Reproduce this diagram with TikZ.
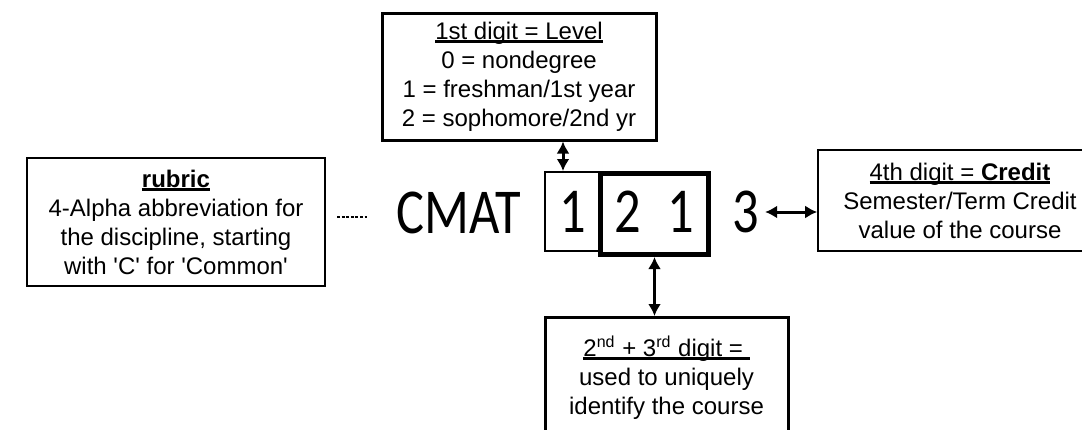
\documentclass[tikz,border=0pt]{standalone}
\usepackage{fontspec}
\setmainfont{Liberation Sans}
\newfontfamily\codefont[FakeStretch=0.82]{Carlito}
\usetikzlibrary{calc,arrows.meta}

% 标题下划线（贴近基线）
\newsavebox\headbox
\newcommand{\headline}[1]{\sbox\headbox{#1}%
  \rlap{\rule[-1.8pt]{\wd\headbox}{1.2pt}}\usebox\headbox}

\begin{document}
\begin{tikzpicture}[x=0.5pt, y=-0.5pt, thick,
  infobox/.style={draw, align=center, inner sep=0pt,
    font=\fontsize{12}{14.5}\selectfont},
  codetext/.style={inner sep=0pt, font=\codefont\fontsize{32}{36}\selectfont},
  link/.style={{Latex[length=6pt,width=6.5pt]}-{Latex[length=6pt,width=6.5pt]},
    line width=1.5pt}]

  % 画布大小（像素坐标）
  \useasboundingbox (0,0) rectangle (1082,429);

  % 课程代码 CMAT 1 2 1 3
  \node[codetext] (cmat) at (459,213) {CMAT};
  \node[codetext, draw, line width=1pt, minimum width=27.5pt,
    minimum height=39.5pt] (dOne) at (572.5,211.5) {1};
  \node[codetext, draw, fill=white, line width=2.5pt, minimum width=54pt,
    minimum height=40.5pt, text depth=2.5pt] (dTwo) at (654.5,214) {2\hspace{13.2pt}1};
  \node[codetext, inner sep=2.5pt] (three) at (746,212) {3};

  % 左边的虚线
  \coordinate (dashL) at (337,217);
  \coordinate (dashR) at (367,217);
  \draw[line width=0.6pt, dash pattern=on 1.5pt off 0.8pt] (dashL) -- (dashR);

  % ---- 说明框 ----

  % 上：第一位
  \node[infobox, line width=1.5pt, minimum width=137pt, minimum height=63.5pt]
    (level) at (519,76.5)
    {\headline{1st digit = Level}\\0 = nondegree\\1 = freshman/1st year\\2 = sophomore/2nd yr};

  % 左：rubric
  \node[infobox, line width=1.2pt, minimum width=149pt, minimum height=64pt]
    (rubric) at (176,222)
    {\headline{\textbf{rubric}}\\4-Alpha abbreviation for\\the discipline, starting\\with \textquotesingle C\textquotesingle{} for \textquotesingle Common\textquotesingle};

  % 右：第四位
  \node[infobox, line width=0.8pt, minimum width=142pt, minimum height=50.5pt]
    (credit) at (960,200.5)
    {\headline{4th digit = \textbf{Credit}}\\Semester/Term Credit\\value of the course};

  % 下：第二、三位
  \node[infobox, line width=1.5pt, minimum width=121.5pt, minimum height=60pt,
    anchor=north] (ident) at (666.5,316)
    {\headline{2\textsuperscript{nd} + 3\textsuperscript{rd} digit =\ }\\used to uniquely\\identify the course};

  % ---- 箭头 ----
  \draw[link] ([xshift=-4.75pt]dOne.north |- level.south) -- ([xshift=-4.75pt]dOne.north);
  \draw[link] (dTwo.south) -- (dTwo.south |- ident.north);
  \draw[link] (three.east) -- (three.east -| credit.west);

\end{tikzpicture}
\end{document}
